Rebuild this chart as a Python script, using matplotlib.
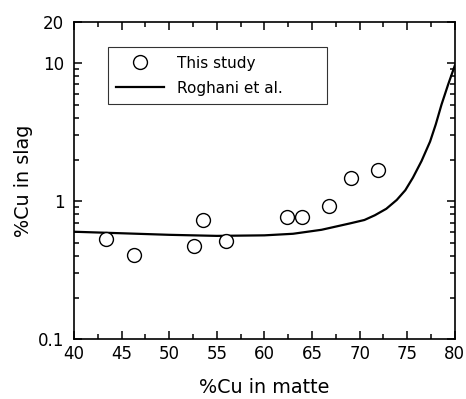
import numpy as np
import matplotlib.pyplot as plt
from matplotlib.ticker import FixedLocator, NullFormatter, MultipleLocator

plt.rcParams['font.family'] = ['DejaVu Sans']

# Measured data (this study)
cu_matte = [43.4, 46.3, 52.6, 53.5, 56.0, 62.4, 63.9, 66.8, 69.1, 71.9]
cu_slag = [0.53, 0.41, 0.47, 0.73, 0.51, 0.77, 0.77, 0.92, 1.47, 1.67]

# Roghani et al. curve
curve_matte = [40, 45, 50, 55, 60, 63, 66, 69, 70.5, 71.6, 72.8, 73.9, 74.8,
               75.6, 76.5, 77.4, 78.0, 78.6, 79.3, 80]
curve_slag = [0.60, 0.585, 0.57, 0.56, 0.565, 0.58, 0.62, 0.69, 0.73, 0.79,
              0.88, 1.02, 1.2, 1.48, 1.95, 2.7, 3.6, 5.0, 7.0, 9.6]

fig = plt.figure(figsize=(4.66, 3.99), dpi=100)
ax = fig.add_axes([0.159, 0.150, 0.817, 0.796])

ax.plot(curve_matte, curve_slag, color='black', lw=1.6, label='Roghani et al.')
ax.plot(cu_matte, cu_slag, 'o', mfc='white', mec='black', mew=1.0, ms=10,
        linestyle='none', label='This study')

ax.set_yscale('log')
ax.set_xlim(40, 80)
ax.set_ylim(0.1, 20)
ax.xaxis.set_major_locator(MultipleLocator(5))
ax.xaxis.set_minor_locator(MultipleLocator(2.5))
ax.yaxis.set_major_locator(FixedLocator([0.1, 1, 10, 20]))
ax.yaxis.set_minor_locator(FixedLocator([0.2, 0.3, 0.4, 0.5, 0.6, 0.7, 0.8, 0.9,
                                         2, 3, 4, 5, 6, 7, 8, 9]))
ax.set_yticklabels(['0.1', '1', '10', '20'])
ax.yaxis.set_minor_formatter(NullFormatter())

ax.tick_params(which='both', direction='in', top=True, right=True, labelsize=12,
               width=1.1, color='black')
ax.tick_params(which='major', length=6)
ax.tick_params(which='minor', length=3.5)
ax.tick_params(axis='x', pad=4)
ax.tick_params(axis='y', pad=7)
for s in ax.spines.values():
    s.set_linewidth(1.2)

ax.set_xlabel('%Cu in matte', fontsize=13.8, labelpad=11)
ax.set_ylabel('%Cu in slag', fontsize=13.8, labelpad=3.5)

h, l = ax.get_legend_handles_labels()
leg = ax.legend(h[::-1], l[::-1], loc='upper left',
                bbox_to_anchor=(0.0885, 0.919, 0.5745, 0.0), mode='expand',
                fontsize=11, frameon=True, fancybox=False, edgecolor='black',
                handlelength=3.1, handletextpad=0.85, borderpad=0.55,
                borderaxespad=0.0, labelspacing=0.65)
leg.get_frame().set_linewidth(0.8)

fig.savefig('out.png', dpi=100)
